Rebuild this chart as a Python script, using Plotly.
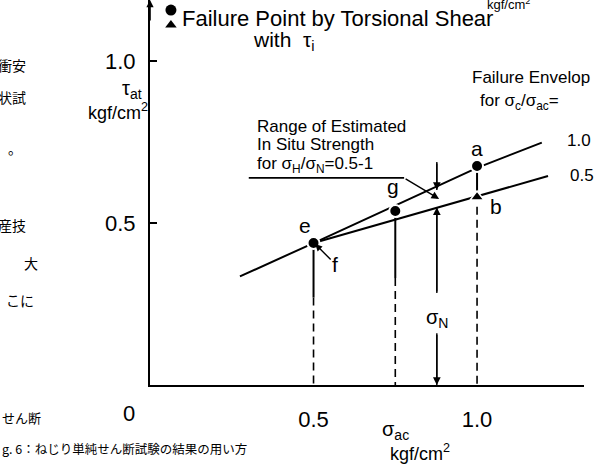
import plotly.graph_objects as go

# ---------------- data ----------------
circle_names = ["e", "g", "a"]
circle_x = [0.5, 0.75, 1.0]
circle_y = [0.438, 0.537, 0.676]

tri_names = ["b"]
tri_x = [1.0]
tri_y = [0.580]

env10_x = [0.275, 0.5, 1.0, 1.198]
env10_y = [0.335, 0.438, 0.670, 0.748]
env05_x = [0.5, 1.217]
env05_y = [0.438, 0.645]
env_labels = ["1.0", "0.5"]

solid_bottom = [0.27, 0.33, 0.58]   # where the solid drop lines end
dash_top = [0.27, 0.33, 0.55]       # where the dashed drop lines begin

sigma_n_x = 0.877
sigma_n_upper = [0.688, 0.602]   # arrow tail, tip (upper envelope)
sigma_n_lower = [0.284, 0.548]   # arrow tail, tip (lower envelope)
sigma_n_bottom = [0.16, 0.0]
sigma_n_label_y = 0.205

range_leader_x = [0.302, 0.777, 0.884]
range_leader_y = [0.639, 0.639, 0.574]

x_tick_vals = [0.5, 1.0]
x_tick_text = ["0.5", "1.0"]
y_tick_vals = [0.5, 1.0]
y_tick_text = ["0.5", "1.0"]

FONT = "Liberation Sans"
JP = "Noto Sans CJK JP"
K = "black"

W, H = 615, 474
ML, MR, MT, MB = 150, 31, 0, 89
PW, PH = W - ML - MR, H - MT - MB

fig = go.Figure()

# envelopes
fig.add_trace(go.Scatter(x=env10_x, y=env10_y, mode="lines",
                         line=dict(color=K, width=2), hoverinfo="skip"))
fig.add_trace(go.Scatter(x=env05_x, y=env05_y, mode="lines",
                         line=dict(color=K, width=2), hoverinfo="skip"))

# drop lines
sx, sy, dx, dy = [], [], [], []
for x0, y0, sb, dt in zip(circle_x, circle_y, solid_bottom, dash_top):
    sx += [x0, x0, None]
    sy += [y0, sb, None]
    dx += [x0, x0, None]
    dy += [dt, 0, None]
fig.add_trace(go.Scatter(x=sx, y=sy, mode="lines",
                         line=dict(color=K, width=2), hoverinfo="skip"))
fig.add_trace(go.Scatter(x=dx, y=dy, mode="lines",
                         line=dict(color=K, width=1.6, dash="8px,5px"), hoverinfo="skip"))

# sigma_N vertical pieces
fig.add_trace(go.Scatter(x=[sigma_n_x, sigma_n_x, None, sigma_n_x, sigma_n_x, None, sigma_n_x, sigma_n_x],
                         y=sigma_n_upper + [None] + sigma_n_lower + [None] + sigma_n_bottom,
                         mode="lines", line=dict(color=K, width=1.4), hoverinfo="skip"))

# range leader (underline)
fig.add_trace(go.Scatter(x=range_leader_x[:2], y=range_leader_y[:2], mode="lines",
                         line=dict(color=K, width=1.6), hoverinfo="skip"))

# markers
fig.add_trace(go.Scatter(x=circle_x, y=circle_y, mode="markers",
                         marker=dict(symbol="circle", size=12, color=K,
                                     line=dict(color="white", width=2)),
                         hoverinfo="skip"))
fig.add_trace(go.Scatter(x=tri_x, y=tri_y, mode="markers",
                         marker=dict(symbol="triangle-up", size=12, color=K,
                                     line=dict(color="white", width=1.5)),
                         hoverinfo="skip"))
# legend symbols at top
fig.add_trace(go.Scatter(x=[0.064], y=[1.157], mode="markers",
                         marker=dict(symbol="circle", size=11, color=K),
                         hoverinfo="skip", cliponaxis=False))
fig.add_trace(go.Scatter(x=[0.064], y=[1.111], mode="markers",
                         marker=dict(symbol="triangle-up", size=10, color=K),
                         hoverinfo="skip", cliponaxis=False))

ann = []

def txt(x, y, t, size=17, xanchor="center", font=FONT):
    ann.append(dict(x=x, y=y, xref="x", yref="y", text=t, showarrow=False,
                    xanchor=xanchor, yanchor="middle",
                    font=dict(family=font, size=size, color=K)))

def ptxt(px, py, t, size=17, xanchor="center", font=FONT):
    """text placed outside the plotting range, by pixel position"""
    ann.append(dict(x=(px - ML) / PW, y=(H - MB - py) / PH, xref="paper", yref="paper",
                    text=t, showarrow=False, xanchor=xanchor, yanchor="middle",
                    font=dict(family=font, size=size, color=K)))

def arrow(x_tip, y_tip, x_tail, y_tail, size=1.1):
    ann.append(dict(x=x_tip, y=y_tip, ax=x_tail, ay=y_tail, xref="x", yref="y",
                    axref="x", ayref="y", text="", showarrow=True,
                    arrowhead=2, arrowsize=size, arrowwidth=1.4, arrowcolor=K,
                    standoff=0, startstandoff=0))

# point labels
txt(0.474, 0.491, "e", 21)
txt(0.743, 0.611, "g", 21)
txt(1.0, 0.731, "a", 21)
txt(1.058, 0.552, "b", 21)
ann.append(dict(x=0.505, y=0.435, xref="x", yref="y", text="f", showarrow=True,
                ax=20, ay=20, arrowhead=2, arrowsize=1, arrowwidth=1.4, arrowcolor=K,
                standoff=0, font=dict(family=FONT, size=21, color=K)))

# envelope labels
txt(1.269, 0.756, env_labels[0], 17, xanchor="left")
txt(1.278, 0.645, env_labels[1], 17, xanchor="left")
txt(1.165, 0.948, "Failure Envelop", 17)
txt(1.131, 0.873, "for σ<sub>c</sub>/σ<sub>ac</sub>=", 17)

# range text
txt(0.321, 0.798, "Range of Estimated", 17, xanchor="left")
txt(0.321, 0.742, "In Situ Strength", 17, xanchor="left")
txt(0.321, 0.680, "for σ<sub>H</sub>/σ<sub>N</sub>=0.5-1", 17, xanchor="left")
arrow(range_leader_x[2], range_leader_y[2], range_leader_x[1], range_leader_y[1])

# sigma N arrows + label
arrow(sigma_n_x, sigma_n_upper[1], sigma_n_x, sigma_n_upper[0])
arrow(sigma_n_x, sigma_n_lower[1], sigma_n_x, sigma_n_lower[0])
arrow(sigma_n_x, sigma_n_bottom[1], sigma_n_x, sigma_n_bottom[0])
txt(sigma_n_x, sigma_n_label_y, "σ<sub>N</sub>", 20)

# y axis arrowhead at the top
ann.append(dict(x=0, y=1.188, ax=0, ay=1.12, xref="x", yref="y", axref="x", ayref="y",
                text="", showarrow=True, arrowhead=2, arrowsize=0.9, arrowwidth=1.6,
                arrowcolor=K, standoff=0))

# top legend text
txt(0.092, 1.130, "Failure Point by Torsional Shear", 22, xanchor="left")
txt(0.41, 1.060, "with  τ<sub>i</sub>", 21)
ptxt(508, 4, "kgf/cm<sup>2</sup>", 13)

# axis titles
ptxt(132, 90, "τ<sub>at</sub>", 20)
ptxt(118, 111, "kgf/cm<sup>2</sup>", 18)
ptxt(395, 430, "σ<sub>ac</sub>", 20)
ptxt(420, 452, "kgf/cm<sup>2</sup>", 18)
ptxt(129, 413, "0", 22)

# Japanese fragments at the left edge
ptxt(-4, 65, "衝安", 14, xanchor="left", font=JP)
ptxt(-4, 97, "状試", 14, xanchor="left", font=JP)
ptxt(6, 148, "。", 14, xanchor="left", font=JP)
ptxt(-4, 225, "産技", 14, xanchor="left", font=JP)
ptxt(22, 263, "大", 14, xanchor="left", font=JP)
ptxt(4, 300, "こに", 14, xanchor="left", font=JP)
ptxt(0, 418, "せん断", 13, xanchor="left", font=JP)
ptxt(0, 448, "g. 6：ねじり単純せん断試験の結果の用い方", 12.5, xanchor="left", font=JP)

fig.update_layout(
    width=W, height=H,
    margin=dict(l=ML, r=MR, t=MT, b=MB),
    paper_bgcolor="white", plot_bgcolor="white",
    showlegend=False,
    annotations=ann,
    xaxis=dict(range=[0, 1.327], showgrid=False, zeroline=False, automargin=False,
               showline=True, linecolor=K, linewidth=2,
               tickvals=x_tick_vals, ticktext=x_tick_text, ticks="",
               ticklabelstandoff=14,
               tickfont=dict(family=FONT, size=22, color=K)),
    yaxis=dict(range=[0, 1.188], showgrid=False, zeroline=False, automargin=False,
               showline=True, linecolor=K, linewidth=2,
               tickvals=y_tick_vals, ticktext=y_tick_text,
               ticks="inside", ticklen=7, tickwidth=2, tickcolor=K,
               ticklabelstandoff=8,
               tickfont=dict(family=FONT, size=22, color=K)),
)

fig.write_html("out.html", config={"displayModeBar": False},
               post_script="document.body.style.margin='0';")
